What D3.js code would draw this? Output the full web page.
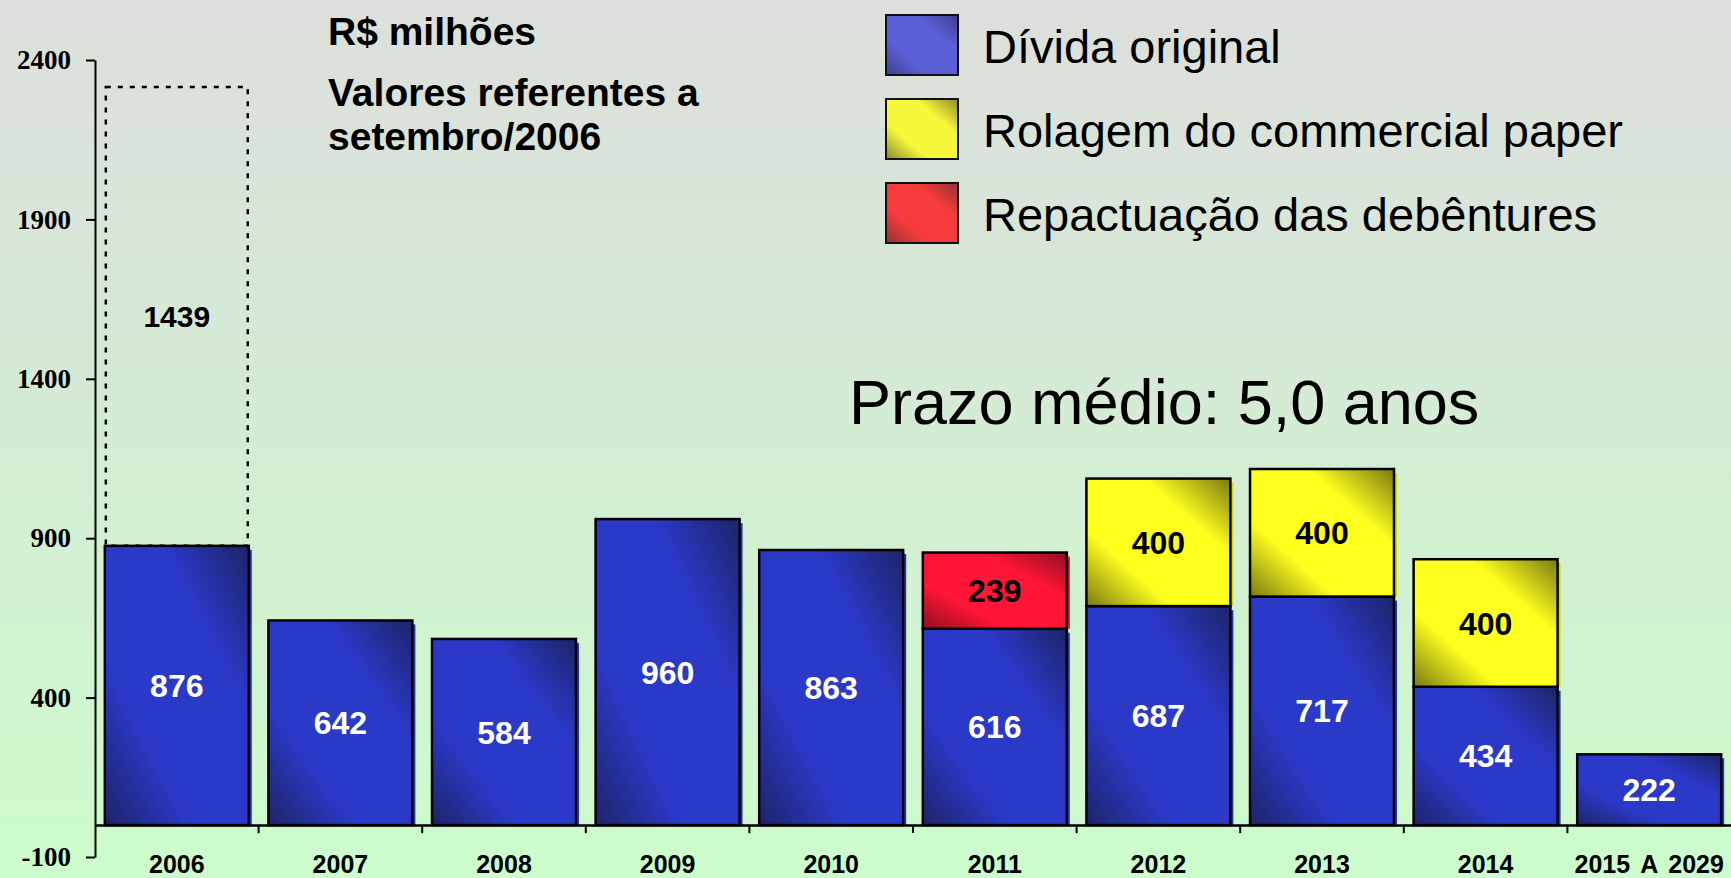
<!DOCTYPE html>
<html>
<head>
<meta charset="utf-8">
<script src="https://cdn.jsdelivr.net/npm/d3@7"></script>
<style>
  html, body { margin: 0; padding: 0; overflow: hidden; }
  svg { display: block; }
</style>
</head>
<body>
<script>
// data (R$ milhões)
const years = ["2006", "2007", "2008", "2009", "2010", "2011", "2012", "2013", "2014", "2015 A 2029"]
const dividaOriginal = [876, 642, 584, 960, 863, 616, 687, 717, 434, 222]
const repactuacao = [0, 0, 0, 0, 0, 239, 0, 0, 0, 0]
const rolagem = [0, 0, 0, 0, 0, 0, 400, 400, 400, 0]
const vencido2006 = [1439, 0, 0, 0, 0, 0, 0, 0, 0, 0]
const yTicks = [-100, 400, 900, 1400, 1900, 2400]
const legendLabels = ["Dívida original", "Rolagem do commercial paper", "Repactuação das debêntures"]

const W = 1731, H = 878
const SANS = "'Liberation Sans', Arial, sans-serif"

const svg = d3.select("body").append("svg")
              .attr("width", W)
              .attr("height", H)

const defs = svg.append("defs")

const bg = defs.append("linearGradient")
               .attr("id", "bg")
               .attr("x1", 0).attr("y1", 0).attr("x2", 0).attr("y2", 1)
bg.append("stop").attr("offset", 0).attr("stop-color", "#dddfdc")
bg.append("stop").attr("offset", 0.5).attr("stop-color", "#d4ecd4")
bg.append("stop").attr("offset", 1).attr("stop-color", "#ccfccc")

// diagonal shading: dark corners bottom-left / top-right
const shade = (id, dark, bright) => {
    const g = defs.append("linearGradient")
                  .attr("id", id)
                  .attr("x1", 0).attr("y1", 1).attr("x2", 1).attr("y2", 0)
    g.append("stop").attr("offset", 0).attr("stop-color", dark)
    g.append("stop").attr("offset", 0.3).attr("stop-color", bright)
    g.append("stop").attr("offset", 0.7).attr("stop-color", bright)
    g.append("stop").attr("offset", 1).attr("stop-color", dark)
}
shade("gBlue", "#1d2468", "#2b39c8")
shade("gYellow", "#7a7a10", "#ffff1e")
shade("gRed", "#8c0f22", "#ff1535")
shade("lBlue", "#3d3f8c", "#5b5fd5")
shade("lYellow", "#8a8a2a", "#f7f73c")
shade("lRed", "#8f3434", "#f53b3b")

svg.append("rect")
   .attr("width", W)
   .attr("height", H)
   .attr("fill", "url(#bg)")

const x = d3.scaleBand()
            .domain(years)
            .range([95, 1731])
            .paddingInner(0.12)
            .paddingOuter(0.06)

const y = d3.scaleLinear()
            .domain([-100, 2400])
            .range([857, 60])

const rows = years.map((yr, i) => ({
    year: yr,
    divida: dividaOriginal[i],
    repac: repactuacao[i],
    rolagem: rolagem[i]
}))

const series = d3.stack().keys(["divida", "repac", "rolagem"])(rows)

const fills = { divida: "url(#gBlue)", repac: "url(#gRed)", rolagem: "url(#gYellow)" }
const labelColor = { divida: "#ffffff", repac: "#000000", rolagem: "#000000" }

// shadows behind the bars
svg.append("g")
   .selectAll("rect")
   .data(series.flatMap(s => s.filter(d => d[1] > d[0]).map(d => ({ key: s.key, d }))))
   .enter()
   .append("rect")
   .attr("x", e => x(e.d.data.year) + 3)
   .attr("y", e => y(e.d[1]) + 4)
   .attr("width", x.bandwidth())
   .attr("height", e => y(e.d[0]) - y(e.d[1]) - 4)
   .attr("fill", e => e.key === "divida" ? "#2533b8" : e.key === "repac" ? "#c01028" : "#d8d810")

const bars = svg.append("g")
series.forEach(s => {
    const segs = s.filter(d => d[1] > d[0])
    bars.selectAll(".seg-" + s.key)
        .data(segs)
        .enter()
        .append("rect")
        .attr("class", "seg-" + s.key)
        .attr("x", d => x(d.data.year))
        .attr("y", d => y(d[1]))
        .attr("width", x.bandwidth())
        .attr("height", d => y(d[0]) - y(d[1]))
        .attr("fill", fills[s.key])
        .attr("stroke", "#000")
        .attr("stroke-width", 2.5)

    bars.selectAll(".lab-" + s.key)
        .data(segs)
        .enter()
        .append("text")
        .attr("class", "lab-" + s.key)
        .attr("x", d => x(d.data.year) + x.bandwidth() / 2)
        .attr("y", d => (y(d[0]) + y(d[1])) / 2)
        .attr("dy", "0.36em")
        .attr("text-anchor", "middle")
        .attr("font-family", SANS)
        .attr("font-weight", "bold")
        .attr("font-size", 32)
        .attr("fill", labelColor[s.key])
        .text(d => d[1] - d[0])
})

// dotted box for 2006 (already matured part)
const extra = years.map((yr, i) => ({ year: yr, base: dividaOriginal[i], v: vencido2006[i] }))
                   .filter(d => d.v > 0)
svg.append("g")
   .selectAll("rect")
   .data(extra)
   .enter()
   .append("rect")
   .attr("x", d => x(d.year) + 1)
   .attr("y", d => y(d.base + d.v))
   .attr("width", x.bandwidth() - 2)
   .attr("height", d => y(d.base) - y(d.base + d.v))
   .attr("fill", "none")
   .attr("stroke", "#000")
   .attr("stroke-width", 2.5)
   .attr("stroke-dasharray", "5,7")
svg.append("g")
   .selectAll("text")
   .data(extra)
   .enter()
   .append("text")
   .attr("x", d => x(d.year) + x.bandwidth() / 2)
   .attr("y", d => (y(d.base) + y(d.base + d.v)) / 2)
   .attr("dy", "0.36em")
   .attr("text-anchor", "middle")
   .attr("font-family", SANS)
   .attr("font-weight", "bold")
   .attr("font-size", 30)
   .attr("fill", "#000")
   .text(d => d.v)

// y axis
const yAxis = svg.append("g")
                 .attr("transform", "translate(95,0)")
                 .call(d3.axisLeft(y)
                         .tickValues(yTicks)
                         .tickFormat(d => String(d))
                         .tickSize(9)
                         .tickSizeOuter(0)
                         .tickPadding(15))
yAxis.attr("font-family", "'Liberation Serif', 'Times New Roman', serif")
     .attr("font-size", 27)
     .attr("font-weight", "bold")
yAxis.selectAll("path, line").attr("stroke", "#000").attr("stroke-width", 2)
yAxis.selectAll("text").attr("fill", "#000")

// x axis at zero
const xAxis = svg.append("g")
                 .attr("transform", `translate(0,${y(0)})`)
                 .call(d3.axisBottom(x).tickSize(0).tickSizeOuter(0).tickPadding(30))
xAxis.attr("font-family", SANS)
     .attr("font-size", 25)
     .attr("font-weight", "bold")
     .attr("word-spacing", 4)
xAxis.select(".domain").attr("stroke", "#000").attr("stroke-width", 2.5)
xAxis.selectAll("text").attr("fill", "#000")

const half = x.step() * x.paddingInner() / 2
svg.append("g")
   .selectAll("line")
   .data(years.slice(0, -1))
   .enter()
   .append("line")
   .attr("x1", d => x(d) + x.bandwidth() + half)
   .attr("x2", d => x(d) + x.bandwidth() + half)
   .attr("y1", y(0))
   .attr("y2", y(0) + 8)
   .attr("stroke", "#000")
   .attr("stroke-width", 2)

// titles
const titles = svg.append("g")
                  .attr("font-family", SANS)
                  .attr("font-weight", "bold")
                  .attr("font-size", 39)
                  .attr("fill", "#000")
titles.append("text").attr("x", 328).attr("y", 45).text("R$ milhões")
titles.append("text").attr("x", 328).attr("y", 106).text("Valores referentes a")
titles.append("text").attr("x", 328).attr("y", 150).text("setembro/2006")

svg.append("text")
   .attr("x", 849)
   .attr("y", 424)
   .attr("font-family", SANS)
   .attr("font-size", 63)
   .attr("fill", "#000")
   .text("Prazo médio: 5,0 anos")

// legend
const legendFills = ["url(#lBlue)", "url(#lYellow)", "url(#lRed)"]
const legend = svg.append("g")
                  .attr("id", "legend")
legend.selectAll("rect")
      .data(legendLabels)
      .enter()
      .append("rect")
      .attr("x", 886)
      .attr("y", (d, i) => 15 + i * 84)
      .attr("width", 72)
      .attr("height", 60)
      .attr("fill", (d, i) => legendFills[i])
      .attr("stroke", "#111")
      .attr("stroke-width", 2)
legend.selectAll("text")
      .data(legendLabels)
      .enter()
      .append("text")
      .attr("x", 983)
      .attr("y", (d, i) => 63 + i * 84)
      .attr("font-family", SANS)
      .attr("font-size", 47)
      .attr("fill", "#000")
      .text(d => d)
</script>
</body>
</html>
